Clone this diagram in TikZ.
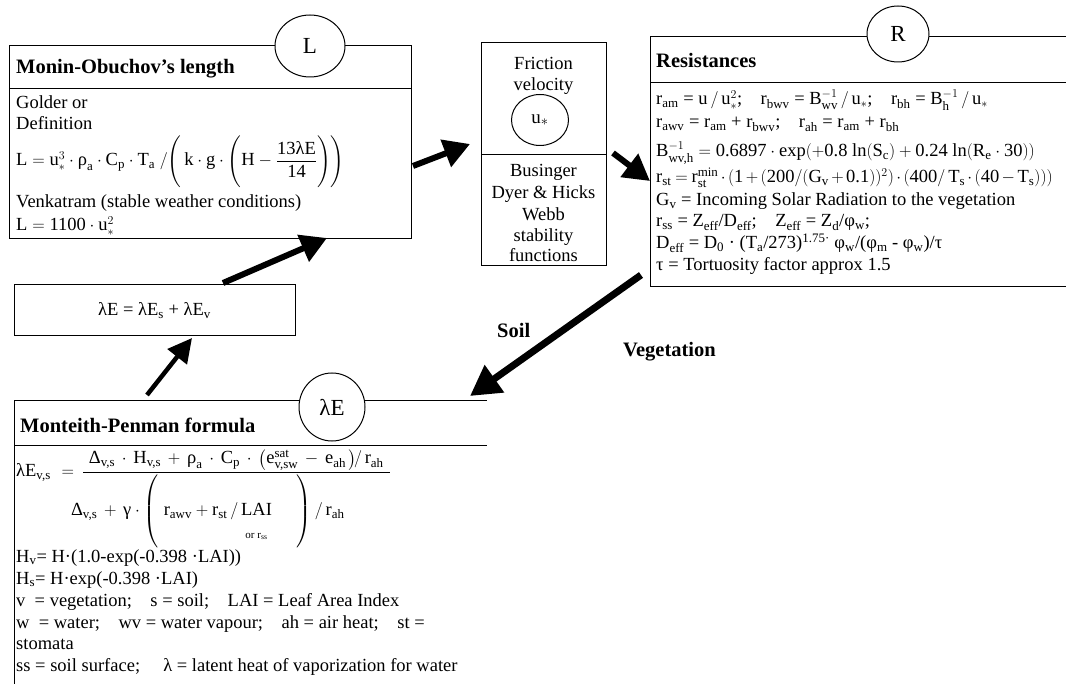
\documentclass[tikz,border=0pt]{standalone}
\usepackage{amsmath}
\usepackage{fontspec}
\setmainfont{Liberation Serif}
\usetikzlibrary{arrows.meta,shapes.geometric}
\newcommand\tx[1]{\text{#1}}
\newcommand\sbs[1]{\textsubscript{#1}}
\newcommand\sps[1]{\textsuperscript{#1}}
\tikzset{
  frame/.style={draw, line width=1pt, inner sep=0pt, anchor=north west},
  rule/.style={line width=1pt},
  txt/.style={anchor=base west, inner sep=0pt, font=\fontsize{18.5}{22}\selectfont},
  ctxt/.style={anchor=base, inner sep=0pt, font=\fontsize{18.5}{22}\selectfont},
  ttl/.style={anchor=base west, inner sep=0pt, font=\fontsize{20.5}{24}\selectfont\bfseries},
  tag/.style={ellipse, draw, line width=1pt, fill=white, inner sep=0pt, font=\fontsize{23}{26}\selectfont},
  flow/.style={line width=6pt, -{Triangle[length=26pt,width=28pt]}},
  thinflow/.style={line width=4.5pt, -{Triangle[length=24pt,width=24pt]}}
}
\begin{document}
\begin{tikzpicture}[x=1pt,y=-1pt]
\useasboundingbox (0,0) rectangle (1066,684);

% ---------- Monin-Obuchov's length ----------
\node[frame, minimum width=402pt, minimum height=193pt] (lbox) at (9,45) {};
\draw[rule] (9,89) -- (411,89);
\node[tag, minimum width=70pt, minimum height=62pt] (ltag) at (310,46) {L};
\node[ttl] (ltitle) at (16,74) {Monin-Obuchov’s length};
\node[txt] (l1) at (16,109) {Golder or};
\node[txt] (l2) at (16,130) {Definition};
\node[txt] (l3) at (16,166) {$\tx{L} = \tx{u}_*^{3}\cdot\tx{ρ}_{\tx{a}}\cdot\tx{C}_{\tx{p}}\cdot\tx{T}_{\tx{a}}\;/\!\left(\rule[-20pt]{0pt}{48pt}\,\tx{k}\cdot\tx{g}\cdot\left(\rule[-20pt]{0pt}{48pt}\tx{H}-\dfrac{\tx{13λE}}{\tx{14}}\right)\right)$};
\node[txt] (l4) at (16,208) {Venkatram (stable weather conditions)};
\node[txt] (l5) at (16,231) {$\tx{L} = \tx{1100}\cdot\tx{u}_*^{2}$};

% ---------- Friction velocity ----------
\node[frame, minimum width=125pt, minimum height=223pt] (fbox) at (481,42) {};
\draw[rule] (481,155) -- (606,155);
\node[ctxt] (f1) at (543.5,70) {Friction};
\node[ctxt] (f2) at (543.5,91) {velocity};
\node[ellipse, draw, line width=1pt, minimum width=57pt, minimum height=51pt, inner sep=0pt,
      font=\fontsize{19}{22}\selectfont] (ustar) at (540,120) {$\tx{u}_*$};
\node[ctxt] (f3) at (543.5,177) {Businger};
\node[ctxt] (f4) at (543.5,199) {Dyer \& Hicks};
\node[ctxt] (f5) at (543.5,221) {Webb};
\node[ctxt] (f6) at (543.5,242) {stability};
\node[ctxt] (f7) at (543.5,262) {functions};

% ---------- Resistances ----------
\draw[rule] (650,37) -- (1066,37);
\draw[rule] (650,83) -- (1066,83);
\draw[rule] (650,287) -- (1066,287);
\draw[rule] (650,37) -- (650,287);
\node[tag, minimum width=62pt, minimum height=56pt] (rtag) at (898,34) {R};
\node[ttl] (rtitle) at (656,68) {Resistances};
\node[txt] (r1) at (656,105) {r\sbs{am} = $\tx{u}\,/\,\tx{u}_*^{2}$;\quad r\sbs{bwv} = $\tx{B}^{-1}_{\tx{wv}}\,/\,\tx{u}_*$;\quad r\sbs{bh} = $\tx{B}^{-1}_{\tx{h}}\,/\,\tx{u}_*$};
\node[txt] (r2) at (656,128) {r\sbs{awv} = r\sbs{am} + r\sbs{bwv};\quad r\sbs{ah} = r\sbs{am} + r\sbs{bh}};
\node[txt] (r3) at (656,157) {$\tx{B}^{-1}_{\tx{wv,h}} = \tx{0.6897}\cdot\tx{exp}(+\tx{0.8 ln}(\tx{S}_{\tx{c}}) + \tx{0.24 ln}(\tx{R}_{\tx{e}}\cdot\tx{30}))$};
\node[txt] (r4) at (656,183) {\medmuskip=2.5mu\thickmuskip=4mu$\tx{r}_{\tx{st}} = \tx{r}_{\tx{st}}^{\tx{min}}\cdot(\tx{1}+(\tx{200}/(\tx{G}_{\tx{v}}+\tx{0.1}))^{2})\cdot(\tx{400}/\,\tx{T}_{\tx{s}}\cdot(\tx{40}-\tx{T}_{\tx{s}})))$};
\node[txt] (r5) at (656,206) {G\sbs{v} = Incoming Solar Radiation to the vegetation};
\node[txt] (r6) at (656,227) {r\sbs{ss} = Z\sbs{eff}/D\sbs{eff};\quad Z\sbs{eff} = Z\sbs{d}/φ\sbs{w};};
\node[txt] (r7) at (656,249) {D\sbs{eff} = D\sbs{0} · (T\sbs{a}/273)\sps{1.75·} φ\sbs{w}/(φ\sbs{m} - φ\sbs{w})/τ};
\node[txt] (r8) at (656,271) {τ = Tortuosity factor approx 1.5};

% ---------- Sum of evaporation ----------
\node[frame, minimum width=281pt, minimum height=51pt] (sbox) at (14,284) {};
\node[ctxt] (stext) at (154.5,316) {λE = λE\sbs{s} + λE\sbs{v}};

% ---------- Monteith-Penman formula ----------
\draw[rule] (14,401) -- (487,401);
\draw[rule] (14,446) -- (487,446);
\draw[rule] (14,401) -- (14,684);
\node[tag, minimum width=66pt, minimum height=68pt] (etag) at (332,407) {λE};
\node[ttl] (mtitle) at (20,433) {Monteith-Penman formula};
\node[txt] (m0) at (16,477) {$\tx{λE}_{\tx{v,s}}\hspace{6pt} = \,\dfrac{\tx{Δ}_{\tx{v,s}}\,\cdot\,\tx{H}_{\tx{v,s}}\,+\,\tx{ρ}_{\tx{a}}\,\cdot\,\tx{C}_{\tx{p}}\,\cdot\,\bigl(\tx{e}^{\tx{sat}}_{\tx{v,sw}}\,-\,\tx{e}_{\tx{ah}}\,\bigr)\!/\,\tx{r}_{\tx{ah}}}{\hspace{-12pt}\tx{Δ}_{\tx{v,s}}\,+\,\tx{γ}\cdot\left(\rule[-33pt]{0pt}{73pt}\;\tx{r}_{\tx{awv}} + \tx{r}_{\tx{st}}\,/\,\underset{\raisebox{-12pt}[0pt][0pt]{\tx{\fontsize{11}{12}\selectfont or r\sbs{ss}}}}{\tx{LAI}}\hspace{25pt}\right)/\,\tx{r}_{\tx{ah}}\hspace{45pt}}$};
\node[txt] (m1) at (16,562) {H\sbs{v}= H·(1.0-exp(-0.398 ·LAI))};
\node[txt] (m2) at (16,584) {H\sbs{s}= H·exp(-0.398 ·LAI)};
\node[txt] (m3) at (16,606) {v\ \ = vegetation;\quad s = soil;\quad LAI = Leaf Area Index};
\node[txt] (m4) at (16,628) {w\ \ = water;\quad wv = water vapour;\quad ah = air heat;\quad st =};
\node[txt] (m5) at (16,649) {stomata};
\node[txt] (m6) at (16,671) {ss = soil surface;\quad\ λ = latent heat of vaporization for water};

% ---------- Branch labels ----------
\node[ttl] (soil) at (497,338) {Soil};
\node[ttl] (veg) at (623,357) {Vegetation};

% ---------- Flow arrows ----------
\coordinate (a1s) at (413,166);
\coordinate (a1e) at (470,144);
\coordinate (a2s) at (613,153);
\coordinate (a2e) at (650,181);
\coordinate (a3s) at (641,275);
\coordinate (a3e) at (470,396);
\coordinate (a4s) at (147,395);
\coordinate (a4e) at (192,338);
\coordinate (a5s) at (223,283);
\coordinate (a5e) at (327,238);
\draw[flow] (a1s) -- (a1e);
\draw[flow] (a2s) -- (a2e);
\draw[flow, line width=7pt, -{Triangle[length=30pt,width=32pt]}] (a3s) -- (a3e);
\draw[thinflow] (a4s) -- (a4e);
\draw[flow] (a5s) -- (a5e);
\end{tikzpicture}
\end{document}
